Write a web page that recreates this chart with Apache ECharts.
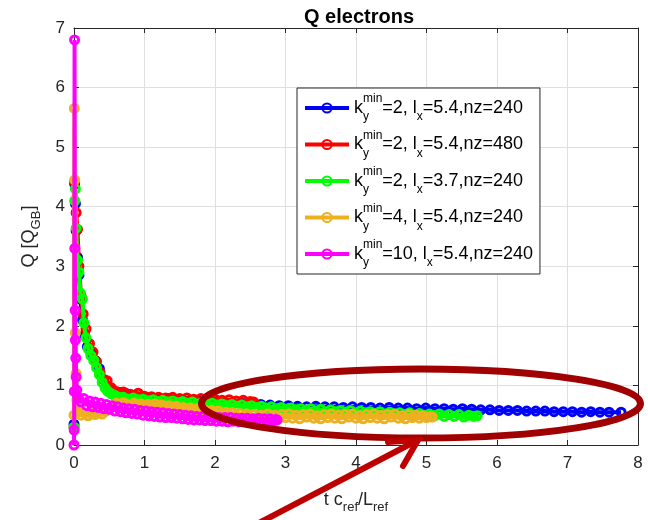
<!DOCTYPE html>
<html><head><meta charset="utf-8">
<script src="https://cdn.jsdelivr.net/npm/echarts@6/dist/echarts.min.js"></script>
<style>html,body{margin:0;padding:0;background:#fff}#c{width:648px;height:520px}</style>
</head><body><div id="c"></div>
<script>
// ---- data ----
const titleText = 'Q electrons';
const kyMin = ['2', '2', '2', '4', '10'];
const lxVal = ['5.4', '5.4', '3.7', '5.4', '5.4'];
const nzVal = ['240', '480', '240', '240', '240'];
const seriesColors = ['#0000ff', '#ff0000', '#00ff00', '#edb120', '#ff00ff'];
const xMin = 0, xMax = 8, xStep = 1;
const yMin = 0, yMax = 7, yStep = 1;

const blue = [
[0,0.35],[0.01,4.38],[0.02,4.05],[0.03,3.6],[0.05,3.15],[0.07,2.85],[0.09,2.45],[0.12,2.1],[0.15,1.85],[0.19,1.65],[0.24,1.55],[0.3,1.42],[0.36,1.28],[0.42,1.1],[0.48,0.98],[0.55,0.92],[0.65,0.88],[0.75,0.86],[0.85,0.83],[0.95,0.8],[1.05,0.79],[1.15,0.78],[1.25,0.77],[1.35,0.78],[1.45,0.76],[1.55,0.75],[1.65,0.74],[1.75,0.75],[1.87,0.73],
[2.00,0.72],[2.13,0.71],[2.26,0.70],[2.39,0.70],[2.52,0.68],[2.65,0.68],[2.78,0.67],[2.91,0.66],[3.04,0.66],[3.17,0.65],[3.30,0.64],[3.43,0.65],[3.56,0.64],[3.69,0.64],[3.82,0.63],[3.95,0.64],[4.08,0.63],[4.21,0.63],[4.34,0.62],[4.47,0.63],[4.60,0.62],[4.73,0.62],[4.86,0.61],[4.99,0.62],[5.12,0.61],[5.25,0.61],[5.38,0.60],[5.51,0.61],[5.64,0.60],[5.77,0.59],[5.90,0.59],[6.03,0.58],[6.16,0.58],[6.29,0.58],[6.42,0.57],[6.55,0.57],[6.68,0.57],[6.81,0.56],[6.94,0.56],[7.07,0.56],[7.20,0.55],[7.33,0.56],[7.46,0.55],[7.59,0.55],[7.76,0.55]
];
const red = [
[0,0.3],[0.01,4.42],[0.03,3.9],[0.05,3.62],[0.07,3.0],[0.1,2.5],[0.13,2.2],[0.17,1.95],[0.22,1.7],[0.27,1.56],[0.32,1.4],[0.37,1.22],[0.42,1.1],[0.47,1.08],[0.53,0.96],[0.6,0.9],[0.7,0.89],[0.8,0.85],[0.91,0.87],[1.0,0.82],[1.1,0.81],[1.2,0.8],[1.3,0.79],[1.4,0.8],[1.5,0.78],[1.6,0.79],[1.7,0.77],[1.8,0.78],[1.9,0.76],[2.0,0.77],[2.1,0.75],[2.2,0.76],[2.3,0.74],[2.4,0.75],[2.5,0.73],[2.55,0.72]
];
const green = [
[0,0.3],[0.01,4.1],[0.02,4.3],[0.03,3.64],[0.05,3.1],[0.07,2.9],[0.09,2.55],[0.12,2.45],[0.14,2.05],[0.17,1.8],[0.2,1.62],[0.24,1.5],[0.28,1.42],[0.32,1.3],[0.36,1.18],[0.4,1.05],[0.44,0.96],[0.48,0.9],[0.53,0.86],[0.58,0.83],[0.64,0.8],
[0.70,0.80],[0.77,0.77],[0.84,0.79],[0.91,0.76],[0.98,0.77],[1.05,0.74],[1.12,0.76],[1.19,0.73],[1.26,0.75],[1.33,0.72],[1.40,0.74],[1.47,0.71],[1.54,0.73],[1.61,0.70],[1.68,0.72],[1.75,0.69],[1.82,0.71],[1.89,0.68],[1.96,0.70],[2.03,0.67],[2.10,0.69],[2.17,0.66],[2.24,0.68],[2.31,0.65],[2.38,0.67],[2.45,0.64],[2.52,0.66],[2.59,0.63],[2.66,0.65],[2.73,0.62],[2.80,0.64],[2.87,0.61],[2.94,0.63],[3.01,0.60],[3.08,0.62],[3.15,0.59],[3.22,0.61],[3.29,0.58],[3.36,0.61],[3.43,0.57],[3.50,0.60],[3.57,0.56],[3.64,0.59],[3.71,0.56],[3.78,0.58],[3.85,0.55],[3.92,0.58],[3.99,0.54],[4.06,0.57],[4.13,0.54],[4.20,0.56],[4.27,0.53],[4.34,0.56],[4.41,0.52],[4.48,0.55],[4.55,0.52],[4.62,0.54],[4.69,0.51],[4.76,0.54],[4.83,0.50],[4.90,0.53],[4.97,0.50],[5.04,0.52],[5.11,0.49],[5.18,0.52],[5.25,0.48],[5.32,0.51],[5.39,0.48],[5.46,0.51],[5.53,0.47],[5.60,0.50],[5.67,0.48],[5.72,0.49]
];
const orange = [
[0,0.5],[0.005,5.65],[0.01,4.45],[0.015,3.3],[0.02,1.88],[0.03,1.2],[0.04,0.75],
[0.05,0.55],[0.10,0.50],[0.15,0.54],[0.20,0.49],[0.25,0.53],[0.30,0.51],[0.35,0.55],[0.40,0.52],[0.45,0.57],[0.50,0.62],[0.55,0.66],[0.60,0.70],[0.65,0.67],[0.70,0.71],[0.75,0.68],[0.80,0.66],[0.85,0.70],[0.90,0.67],[0.95,0.69],[1.00,0.65],[1.05,0.68],[1.10,0.66],[1.15,0.69],[1.20,0.65],[1.25,0.67],[1.30,0.64],[1.35,0.66],[1.40,0.63],[1.45,0.65],[1.50,0.61],[1.55,0.63],[1.60,0.60],[1.65,0.62],[1.70,0.58],[1.75,0.61],[1.80,0.57],[1.85,0.59],[1.90,0.55],[1.95,0.58],[2.00,0.54],[2.05,0.57],[2.10,0.52],[2.15,0.55],[2.20,0.51],[2.25,0.54],[2.30,0.49],[2.35,0.53],[2.40,0.48],[2.45,0.52],[2.50,0.47],[2.55,0.51],[2.60,0.45],[2.65,0.50],[2.70,0.46],[2.75,0.52],[2.80,0.45],[2.85,0.50],[2.90,0.44],[2.95,0.51],[3.00,0.46],[3.05,0.52],[3.10,0.45],[3.15,0.50],[3.20,0.44],[3.25,0.51],[3.30,0.47],[3.35,0.52],[3.40,0.45],[3.45,0.49],[3.50,0.44],[3.55,0.51],[3.60,0.46],[3.65,0.52],[3.70,0.45],[3.75,0.50],[3.80,0.44],[3.85,0.51],[3.90,0.47],[3.95,0.52],[4.00,0.45],[4.05,0.49],[4.10,0.44],[4.15,0.51],[4.20,0.46],[4.25,0.52],[4.30,0.45],[4.35,0.50],[4.40,0.44],[4.45,0.51],[4.50,0.47],[4.55,0.52],[4.60,0.45],[4.65,0.49],[4.70,0.44],[4.75,0.51],[4.80,0.46],[4.85,0.50],[4.90,0.45],[4.95,0.49],[5.00,0.46],[5.05,0.48],[5.08,0.47]
];
const magenta = [
[0,0],[0.002,0.25],[0.004,0.9],[0.008,6.8],[0.012,3.3],[0.016,2.26],[0.02,1.76],[0.025,1.46],[0.03,1.14],[0.04,0.92],
[0.06,0.80],[0.10,0.72],[0.14,0.78],[0.18,0.66],[0.22,0.74],[0.26,0.64],[0.30,0.72],[0.34,0.63],[0.38,0.70],[0.42,0.61],[0.46,0.68],[0.50,0.60],[0.54,0.66],[0.58,0.57],[0.62,0.64],[0.66,0.56],[0.70,0.62],[0.74,0.54],[0.78,0.61],[0.82,0.53],[0.86,0.60],[0.90,0.52],[0.94,0.58],[0.98,0.50],[1.02,0.57],[1.06,0.49],[1.10,0.56],[1.14,0.48],[1.18,0.55],[1.22,0.47],[1.26,0.54],[1.30,0.46],[1.34,0.53],[1.38,0.46],[1.42,0.52],[1.46,0.45],[1.50,0.51],[1.54,0.44],[1.58,0.50],[1.62,0.43],[1.66,0.49],[1.70,0.42],[1.74,0.48],[1.78,0.42],[1.82,0.48],[1.86,0.41],[1.90,0.47],[1.94,0.41],[1.98,0.47],[2.02,0.40],[2.06,0.46],[2.10,0.40],[2.14,0.46],[2.18,0.39],[2.22,0.46],[2.26,0.40],[2.30,0.45],[2.34,0.39],[2.38,0.45],[2.42,0.40],[2.46,0.45],[2.50,0.39],[2.54,0.44],[2.58,0.40],[2.62,0.45],[2.66,0.39],[2.70,0.44],[2.74,0.40],[2.78,0.44],[2.82,0.40],[2.86,0.43],[2.88,0.42]
];
const seriesData = [blue, red, green, orange, magenta];

// ---- chart ----
const FONT = '"Liberation Sans", Arial, Helvetica, sans-serif';
const INK = '#262626';
const names = kyMin.map((k, i) => 'ky' + k + '_lx' + lxVal[i] + '_nz' + nzVal[i]);
const richName = {};
names.forEach((n, i) => {
  richName[n] = '{n|k}{sy|y}{sp|min}{n|=' + kyMin[i] + ', l}{sx|x}{n|=' + lxVal[i] + ',nz=' + nzVal[i] + '}';
});

const chart = echarts.init(document.getElementById('c'), null, {renderer: 'canvas'});
const axisCommon = {
  type: 'value',
  axisLine: {show: true, onZero: false, lineStyle: {color: INK, width: 1}},
  axisTick: {show: true, inside: true, length: 5, lineStyle: {color: INK}},
  splitLine: {show: false}
};
chart.setOption({
  animation: false,
  backgroundColor: '#fff',
  title: {
    text: titleText, left: 299, top: 2,
    textStyle: {fontFamily: FONT, fontSize: 20, fontWeight: 'bold', color: '#000'}
  },
  grid: {left: 74, right: 10, top: 28, bottom: 75, containLabel: false},
  legend: {
    orient: 'vertical', left: 297, top: 88,
    padding: [5, 7, 5, 6], itemGap: 6.5, itemWidth: 44, itemHeight: 11.5,
    backgroundColor: '#fff', borderColor: INK, borderWidth: 1,
    data: names,
    lineStyle: {width: 4},
    formatter: n => richName[n],
    textStyle: {
      fontFamily: FONT, color: '#000',
      rich: {
        n: {fontFamily: FONT, fontSize: 18, lineHeight: 30, color: '#000'},
        sp: {fontFamily: FONT, fontSize: 12, verticalAlign: 'top', color: '#000'},
        sy: {fontFamily: FONT, fontSize: 12, verticalAlign: 'bottom', width: 0, color: '#000'},
        sx: {fontFamily: FONT, fontSize: 12, verticalAlign: 'bottom', color: '#000'}
      }
    }
  },
  xAxis: [
    Object.assign({}, axisCommon, {
      position: 'bottom', min: xMin, max: xMax, interval: xStep,
      splitLine: {show: true, lineStyle: {color: '#dfdfdf', width: 1}},
      axisLabel: {fontFamily: FONT, fontSize: 17, color: INK, margin: 10},
      name: '{n|t c}{s|ref}{n|/L}{s|ref}', nameLocation: 'middle', nameGap: 41,
      nameTextStyle: {
        rich: {
          n: {fontFamily: FONT, fontSize: 18, lineHeight: 28, color: INK},
          s: {fontFamily: FONT, fontSize: 13, verticalAlign: 'bottom', color: INK}
        }
      }
    }),
    Object.assign({}, axisCommon, {
      position: 'top', min: xMin, max: xMax, interval: xStep,
      axisLabel: {show: false}
    })
  ],
  yAxis: [
    Object.assign({}, axisCommon, {
      position: 'left', min: yMin, max: yMax, interval: yStep,
      splitLine: {show: true, lineStyle: {color: '#dfdfdf', width: 1}},
      axisLabel: {fontFamily: FONT, fontSize: 17, color: INK, margin: 9},
      name: '{n|Q [Q}{s|GB}{n|]}', nameLocation: 'middle', nameGap: 31, nameRotate: 90,
      nameTextStyle: {
        rich: {
          n: {fontFamily: FONT, fontSize: 18, lineHeight: 28, color: INK},
          s: {fontFamily: FONT, fontSize: 13, verticalAlign: 'bottom', color: INK}
        }
      }
    }),
    Object.assign({}, axisCommon, {
      position: 'right', min: yMin, max: yMax, interval: yStep,
      axisLabel: {show: false}
    })
  ],
  series: seriesData.map((d, i) => ({
    type: 'line', name: names[i], data: d,
    xAxisIndex: 0, yAxisIndex: 0, z: 2 + i, clip: false,
    symbol: 'circle', symbolSize: 8, showSymbol: true,
    lineStyle: {color: seriesColors[i], width: 4},
    itemStyle: {color: 'rgba(255,255,255,0)', borderColor: seriesColors[i], borderWidth: 3},
    emphasis: {disabled: true}
  })),
  graphic: [
    {type: 'ellipse', z: 100, shape: {cx: 421, cy: 403.5, rx: 219.5, ry: 34.5},
     style: {fill: 'none', stroke: '#a00000', lineWidth: 7}},
    {type: 'line', z: 101, shape: {x1: 257, y1: 524, x2: 416, y2: 441},
     style: {stroke: '#bf0000', lineWidth: 6, lineCap: 'butt'}},
    {type: 'polyline', z: 101, shape: {points: [[388, 442], [418, 440], [403, 466]]},
     style: {stroke: '#bf0000', lineWidth: 6, fill: 'none', lineJoin: 'miter', lineCap: 'round'}}
  ]
});
</script></body></html>
